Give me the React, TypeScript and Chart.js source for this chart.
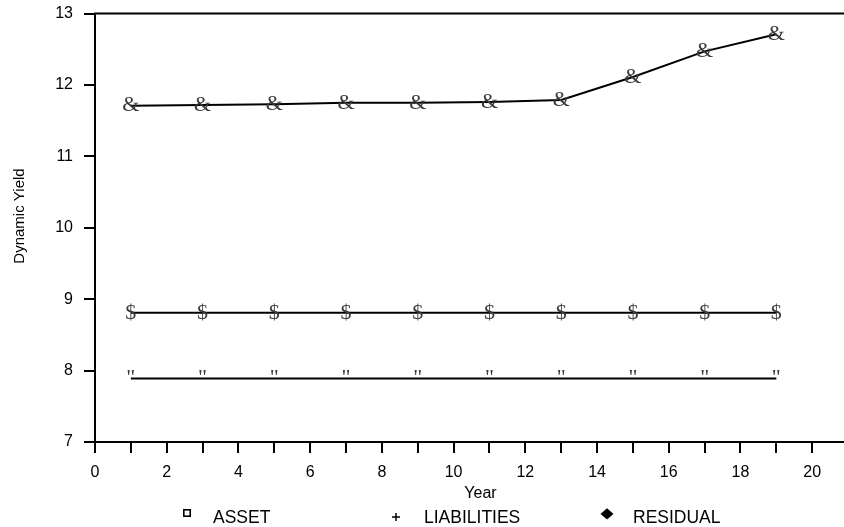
import React, { useEffect, useRef } from 'react';
import { Chart, registerables } from 'chart.js';

Chart.register(...registerables);

// ---- data ----
const years = [1, 3, 5, 7, 9, 11, 13, 15, 17, 19];
const assetValues = [7.89, 7.89, 7.89, 7.89, 7.89, 7.89, 7.89, 7.89, 7.89, 7.89];
const liabilityValues = [8.81, 8.81, 8.81, 8.81, 8.81, 8.81, 8.81, 8.81, 8.81, 8.81];
const residualValues = [11.71, 11.72, 11.73, 11.75, 11.75, 11.76, 11.79, 12.11, 12.47, 12.71];
const seriesLabels = ['ASSET', 'LIABILITIES', 'RESIDUAL'];
const markerGlyphs = ['"', '$', '&'];
const legendSymbols = ['square', 'plus', 'diamond'];
const yTickValues = [7, 8, 9, 10, 11, 12, 13];
const xTickValues = [0, 1, 2, 3, 4, 5, 6, 7, 8, 9, 10, 11, 12, 13, 14, 15, 16, 17, 18, 19, 20];
const xLabelEvery = 2;
const xAxisTitle = 'Year';
const yAxisTitle = 'Dynamic Yield';

const SANS = 'Arial, "Liberation Sans", Helvetica, sans-serif';
const SERIF = '"Liberation Serif", "Times New Roman", serif';

const glyphPlugin = {
  id: 'glyphMarkers',
  afterDatasetsDraw(chart: any) {
    const ctx = chart.ctx;
    ctx.save();
    ctx.font = `22px ${SERIF}`;
    ctx.fillStyle = '#3a3a3a';
    ctx.textAlign = 'center';
    ctx.textBaseline = 'middle';
    chart.data.datasets.forEach((ds: any, i: number) => {
      const meta = chart.getDatasetMeta(i);
      meta.data.forEach((el: any) => {
        ctx.fillText(markerGlyphs[i], el.x, el.y);
      });
    });
    ctx.restore();
  },
};

const frameAndLegendPlugin = {
  id: 'frameAndLegend',
  afterDraw(chart: any) {
    const ctx = chart.ctx;
    const area = chart.chartArea;
    ctx.save();
    // top frame line
    ctx.strokeStyle = '#000';
    ctx.lineWidth = 2;
    ctx.beginPath();
    ctx.moveTo(area.left - 1, area.top);
    ctx.lineTo(area.right, area.top);
    ctx.stroke();

    // y axis title
    ctx.save();
    ctx.translate(20, 216);
    ctx.rotate(-Math.PI / 2);
    ctx.font = `15px ${SANS}`;
    ctx.fillStyle = '#000';
    ctx.textAlign = 'center';
    ctx.textBaseline = 'middle';
    ctx.fillText(yAxisTitle, 0, 0);
    ctx.restore();

    // legend
    const markerX = [187, 396, 607];
    const textX = [213, 424, 633];
    const baseY = 523;
    ctx.fillStyle = '#000';
    ctx.strokeStyle = '#000';
    seriesLabels.forEach((label, i) => {
      const mx = markerX[i];
      const sym = legendSymbols[i];
      if (sym === 'square') {
        ctx.lineWidth = 1.6;
        ctx.strokeRect(mx - 3.2, 509.8, 6.4, 6.4);
      } else if (sym === 'plus') {
        ctx.lineWidth = 1.5;
        ctx.beginPath();
        ctx.moveTo(mx - 4, 517);
        ctx.lineTo(mx + 4, 517);
        ctx.moveTo(mx, 513);
        ctx.lineTo(mx, 521);
        ctx.stroke();
      } else {
        ctx.beginPath();
        ctx.moveTo(mx, 508.3);
        ctx.lineTo(mx + 6.5, 514);
        ctx.lineTo(mx, 519.6);
        ctx.lineTo(mx - 6.5, 514);
        ctx.closePath();
        ctx.fill();
      }
      ctx.font = `17.5px ${SANS}`;
      ctx.textAlign = 'left';
      ctx.textBaseline = 'alphabetic';
      ctx.fillText(label, textX[i], baseY);
    });
    ctx.restore();
  },
};

export default function App() {
  const canvasRef = useRef<HTMLCanvasElement | null>(null);

  useEffect(() => {
    const canvas = canvasRef.current;
    if (!canvas) return;
    const values = [assetValues, liabilityValues, residualValues];
    const chart = new Chart(canvas, {
      type: 'line',
      data: {
        labels: years,
        datasets: seriesLabels.map((label, i) => ({
          label,
          data: years.map((x, j) => ({ x, y: values[i][j] })),
          borderColor: '#000',
          backgroundColor: '#000',
          borderWidth: 2,
          pointRadius: 0,
          pointHoverRadius: 0,
          tension: 0,
          fill: false,
        })),
      },
      options: {
        responsive: false,
        animation: false,
        events: [],
        layout: { padding: { top: 13.5, left: 0, right: 0, bottom: 0 } },
        plugins: {
          legend: { display: false },
          tooltip: { enabled: false },
          title: { display: false },
        },
        scales: {
          x: {
            type: 'linear',
            min: 0,
            max: 21.5,
            afterBuildTicks: (scale: any) => {
              scale.ticks = xTickValues.map((v) => ({ value: v }));
            },
            afterFit: (scale: any) => {
              scale.height = 85;
              scale.paddingLeft = 0;
              scale.paddingRight = 0;
            },
            ticks: {
              autoSkip: false,
              maxRotation: 0,
              padding: 10,
              color: '#000',
              font: { family: SANS, size: 16 },
              callback: (v: any) => (Number(v) % xLabelEvery === 0 ? String(v) : ''),
            },
            grid: {
              drawOnChartArea: false,
              drawTicks: true,
              tickLength: 11,
              color: '#000',
              lineWidth: 2,
            },
            border: { display: true, color: '#000', width: 2 },
            title: {
              display: true,
              text: xAxisTitle,
              color: '#000',
              font: { family: SANS, size: 16 },
              padding: { top: 0, bottom: 24 },
            },
          },
          y: {
            type: 'linear',
            min: 7,
            max: 13,
            afterBuildTicks: (scale: any) => {
              scale.ticks = yTickValues.map((v) => ({ value: v }));
            },
            afterFit: (scale: any) => {
              scale.width = 95;
              scale.paddingTop = 0;
              scale.paddingBottom = 0;
            },
            ticks: {
              padding: 11,
              color: '#000',
              font: { family: SANS, size: 16 },
            },
            grid: {
              drawOnChartArea: false,
              drawTicks: true,
              tickLength: 11,
              color: '#000',
              lineWidth: 2,
            },
            border: { display: true, color: '#000', width: 2 },
            title: { display: false },
          },
        },
      },
      plugins: [glyphPlugin, frameAndLegendPlugin],
    } as any);
    return () => chart.destroy();
  }, []);

  return (
    <div
      style={{
        position: 'absolute',
        left: 0,
        top: 0,
        width: 844,
        height: 527,
        overflow: 'hidden',
        background: '#fff',
      }}
    >
      <canvas ref={canvasRef} width={866} height={527} style={{ display: 'block' }} />
    </div>
  );
}
